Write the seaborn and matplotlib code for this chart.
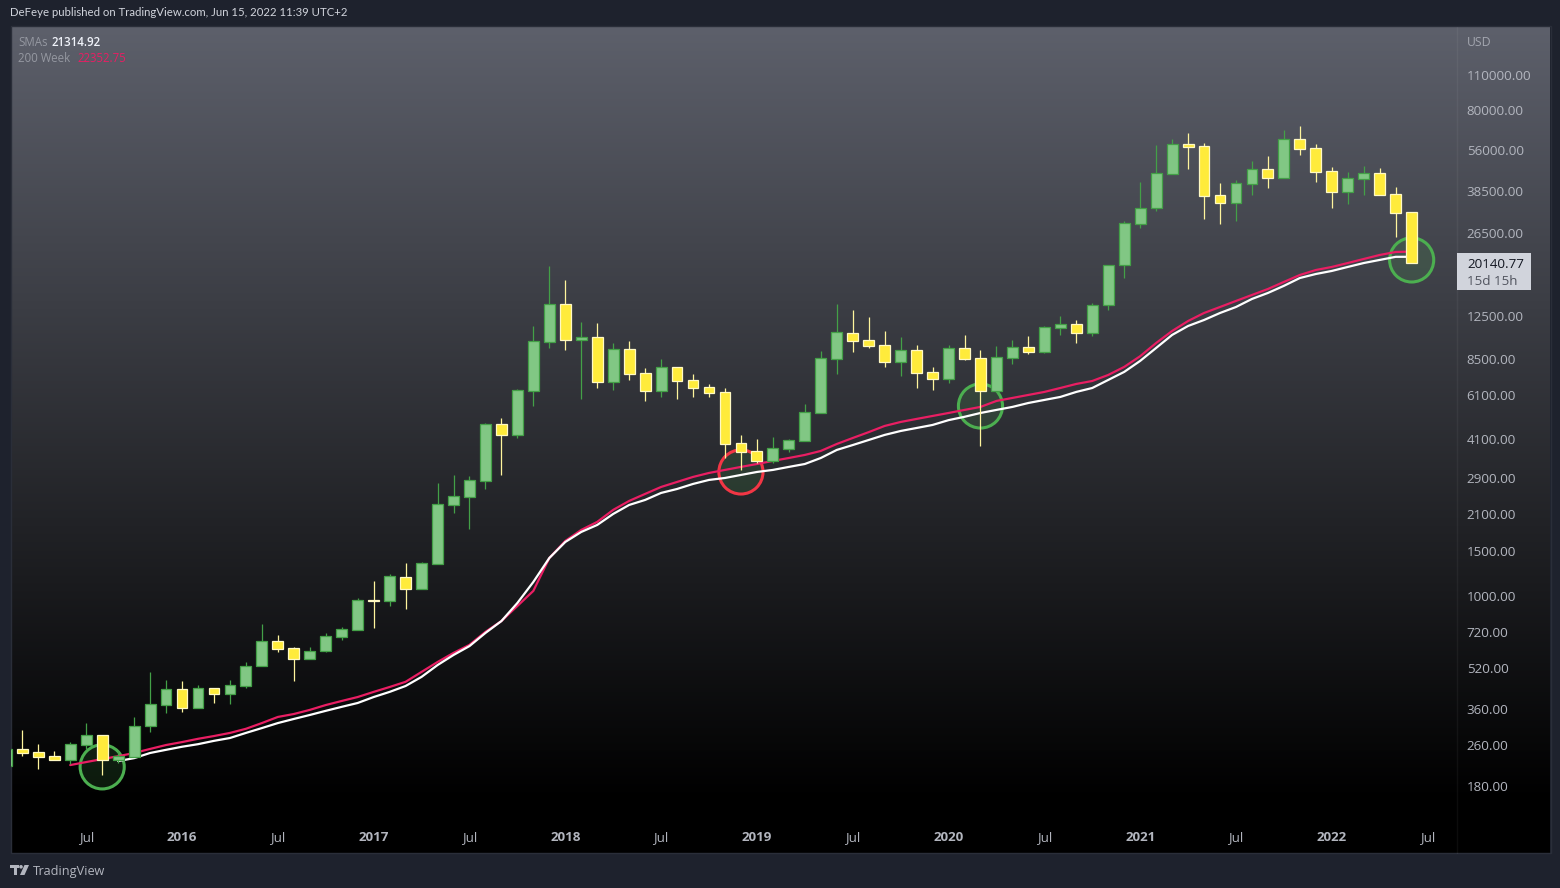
import numpy as np
import pandas as pd
import matplotlib
matplotlib.use("Agg")
import matplotlib.pyplot as plt
from matplotlib.patches import Rectangle, Polygon, Circle
from matplotlib.ticker import NullLocator
import seaborn as sns

# monthly candles, Feb 2015 to Jun 2022 (month 0 = Jan 2015)
opens = [215, 251, 244, 236, 227, 260, 285, 227, 233, 309, 373,
         431, 363, 435, 412, 443, 531, 665, 625, 566, 608, 690, 735,
         963, 955, 1185, 1063, 1332, 2270, 2440, 2820, 4715, 4271, 6350, 9890,
         13935, 10057, 10333, 6890, 9278, 7466, 6350, 7884, 7015, 6583, 6293, 3970,
         3696, 3378, 3763, 4043, 5206, 8478, 10720, 10057, 9615, 8248, 9195, 7534,
         7076, 9363, 8551, 6350, 8551, 9450, 9030, 11213, 11624, 10720, 13800, 19790,
         28670, 33110, 45010, 58980, 57950, 37200, 34660, 41120, 47070, 43430, 61710, 56900,
         46210, 38280, 43050, 45430, 37550, 31930]
highs = [251, 298, 262, 247, 267, 317, 285, 247, 335, 503, 468,
         464, 447, 435, 468, 550, 776, 703, 630, 630, 715, 755, 981,
         1143, 1218, 1344, 1357, 2768, 2976, 2949, 4760, 4977, 6465, 11416, 19632,
         17294, 11840, 11728, 9792, 9976, 7816, 8478, 7884, 7400, 6766, 6523, 4271,
         4117, 4192, 4117, 5651, 9113, 13935, 13198, 12387, 10910, 10333, 9615, 7884,
         9615, 10530, 9195, 9528, 10057, 10430, 11416, 12500, 12050, 14056, 19790, 29440,
         41890, 58490, 61710, 65150, 59540, 41490, 42650, 50650, 52960, 66970, 69420, 58980,
         47960, 45830, 48400, 47520, 40010, 31930]
lows = [215, 236, 209, 227, 219, 250, 198, 221, 233, 293, 347,
        350, 363, 380, 377, 435, 531, 602, 464, 566, 602, 671, 735,
        748, 912, 888, 1063, 1332, 2111, 1829, 2622, 2976, 4154, 5546, 9363,
        9195, 5909, 6523, 6406, 7015, 5803, 6017, 5909, 6017, 6017, 3468, 3114,
        3315, 3315, 3663, 4043, 5206, 7400, 9030, 9363, 7884, 7272, 6523, 6406,
        6824, 8404, 3865, 6350, 8101, 8873, 8948, 10530, 9792, 10430, 13198, 17600,
        27640, 32250, 45010, 47070, 29975, 28670, 29440, 37200, 39660, 43430, 53440, 41890,
        33110, 34350, 37200, 37200, 25480, 20140]
closes = [251, 242, 233, 227, 262, 285, 227, 236, 309, 377, 431,
          363, 435, 412, 447, 531, 665, 619, 566, 608, 696, 742, 963,
          955, 1196, 1063, 1344, 2292, 2461, 2845, 4715, 4271, 6406, 9976, 13935,
          10057, 10333, 6890, 9278, 7400, 6350, 7884, 6949, 6523, 6237, 3935, 3663,
          3378, 3797, 4080, 5253, 8551, 10817, 9976, 9528, 8248, 9195, 7466, 7076,
          9363, 8478, 6350, 8634, 9450, 9030, 11314, 11624, 10720, 13800, 19790, 28930,
          33110, 45430, 58980, 57450, 36890, 34660, 41490, 47070, 43430, 61710, 56400, 45830,
          38280, 43430, 45430, 37200, 31650, 20140]

# 200 week SMA, from Jun 2015
sma_pink = [217, 223, 229, 235, 242, 251, 260, 267, 275, 282, 290, 301, 317, 335, 344, 357,
            373, 387, 401, 420, 439, 460, 503, 550, 597, 642, 722, 796, 912, 1045, 1406, 1640,
            1812, 1948, 2171, 2354, 2508, 2670, 2794, 2923, 3030, 3114, 3200, 3285, 3378, 3468,
            3565, 3696, 3935, 4154, 4380, 4631, 4800, 4934, 5068, 5206, 5352, 5499, 5803, 5963,
            6127, 6296, 6523, 6766, 6949, 7338, 7890, 8692, 9792, 10910, 11940, 12837, 13550,
            14310, 15105, 15940, 16990, 18090, 18920, 19450, 20150, 20900, 21670, 22260, 22350]
# second SMA, from Sep 2015
sma_white = [225, 231, 242, 249, 256, 262, 270, 277, 290, 303, 317, 329, 341, 354, 367, 380,
             401, 420, 443, 481, 535, 586, 635, 715, 796, 937, 1133, 1406, 1625, 1779, 1895,
             2093, 2270, 2375, 2530, 2622, 2744, 2845, 2896, 2976, 3057, 3114, 3200, 3285, 3468,
             3729, 3898, 4080, 4271, 4425, 4547, 4673, 4880, 5030, 5206, 5352, 5499, 5698, 5856,
             6017, 6296, 6523, 7015, 7542, 8330, 9363, 10530, 11416, 12050, 12837, 13550, 14570,
             15380, 16400, 17600, 18250, 18760, 19450, 20150, 20720, 21310, 21315]

# highlighted touches of the moving average
touch_months = [7, 47, 62, 89]
touch_prices = [213.5, 3057, 5546, 20720]
touch_colors = ["#4caf50", "#f23645", "#4caf50", "#4caf50"]

price_ticks = [110000, 80000, 56000, 38500, 26500, 12500, 8500, 6100, 4100, 2900,
               2100, 1500, 1000, 720, 520, 360, 260, 180]
time_ticks = [6, 12, 18, 24, 30, 36, 42, 48, 54, 60, 66, 72, 78, 84, 90]
time_labels = ["Jul", "2016", "Jul", "2017", "Jul", "2018", "Jul", "2019", "Jul",
               "2020", "Jul", "2021", "Jul", "2022", "Jul"]

W, H = 1560, 888
sns.set_theme(style="dark", rc={"font.family": "Open Sans"})
fig = plt.figure(figsize=(W / 100, H / 100), dpi=100, facecolor="#1e222d")

# full figure layer in pixel coords for the panel gradient and header texts
bg = fig.add_axes([0, 0, 1, 1])
rows = np.arange(27, 853)
level = np.interp(rows, [27, 800], [1, 0])[:, None, None]
grad = level * np.array([93, 96, 107]) / 255
bg.imshow(grad, extent=(11, 1550, 853, 27), aspect="auto", interpolation="bilinear")
bg.add_patch(Rectangle((10.5, 26.5), 1540, 826, fill=False, edgecolor="#2a2e39", lw=1))
bg.plot([1457, 1457], [27, 853], color="#ffffff", alpha=0.05, lw=1)
bg.set_xlim(0, W)
bg.set_ylim(H, 0)
bg.axis("off")

bg.text(10, 13, "DeFeye published on TradingView.com, Jun 15, 2022 11:39 UTC+2",
        color="#d1d4dc", fontsize=8.2, va="center", family="Lato")
bg.text(18, 42, "SMAs", color="#9598a1", fontsize=8.3, va="center")
bg.text(51, 42, "21314.92", color="#f0f3fa", fontsize=8.3, va="center", fontweight="semibold")
bg.text(18, 59, "200 Week", color="#9598a1", fontsize=8.3, va="center")
bg.text(77, 59, "22352.75", color="#e91e63", fontsize=8.3, va="center")
bg.text(1467, 42, "USD", color="#a3a6af", fontsize=8.8, va="center")

# price tag on the axis
bg.add_patch(Rectangle((1457, 253), 74, 37, facecolor="#d1d4dc", edgecolor="none"))
bg.text(1467, 264, "20140.77", color="#131722", fontsize=9.6, va="center")
bg.text(1467, 281, "15d 15h", color="#50535e", fontsize=9.6, va="center")

# footer logo
bg.add_patch(Rectangle((10, 865), 8.5, 3.4, facecolor="#b2b5be", edgecolor="none"))
bg.add_patch(Rectangle((13.5, 865), 3.4, 10, facecolor="#b2b5be", edgecolor="none"))
bg.add_patch(Circle((21, 866.8), 1.8, facecolor="#b2b5be", edgecolor="none"))
bg.add_patch(Polygon([(24.5, 865), (29, 865), (24.5, 875), (20, 875)], facecolor="#b2b5be", edgecolor="none"))
bg.text(33, 871, "TradingView", color="#b2b5be", fontsize=9.2, va="center")

# main pane, x range 11..1457 px, y range 27..822 px
ax = fig.add_axes([11 / W, 1 - 822 / H, (1457 - 11) / W, (822 - 27) / H])
ax.patch.set_alpha(0)
ax.set_yscale("log")

months = np.arange(1, len(closes) + 1)
frame = pd.DataFrame({"month": months, "open": opens, "high": highs, "low": lows, "close": closes})
frame["up"] = frame["close"] >= frame["open"]

# circles sit under everything else, all with the same faint green fill
ax.scatter(touch_months, touch_prices, s=1010, facecolors="#4caf5026",
           edgecolors=touch_colors, linewidths=2.2, zorder=2)

line_df = pd.DataFrame({"month": np.arange(5, 5 + len(sma_pink)), "sma": sma_pink})
sns.lineplot(data=line_df, x="month", y="sma", color="#e91e63", linewidth=1.6, ax=ax, zorder=3)
line_df2 = pd.DataFrame({"month": np.arange(8, 8 + len(sma_white)), "sma": sma_white})
sns.lineplot(data=line_df2, x="month", y="sma", color="#ffffff", linewidth=1.6, ax=ax, zorder=4)

for up, sub in frame.groupby("up"):
    wick = "#43a047" if up else "#fff59d"
    fill = "#81c784" if up else "#ffeb3b"
    edge = "#43a047" if up else "#fff9c4"
    ax.vlines(sub["month"], sub["low"], sub["high"], color=wick, linewidth=0.9, zorder=5)
    bottoms = sub[["open", "close"]].min(axis=1)
    tops = sub[["open", "close"]].max(axis=1)
    ax.bar(sub["month"], tops - bottoms, bottom=bottoms, width=0.68, color=fill,
           edgecolor=edge, linewidth=0.9, zorder=6)

ax.set_xlim(1.29, 91.84)
ax.set_ylim(129.8, 169600)
ax.set_xlabel("")
ax.set_ylabel("")
ax.grid(False)
for spine in ax.spines.values():
    spine.set_visible(False)

ax.yaxis.tick_right()
ax.set_yticks(price_ticks)
ax.set_yticklabels([f"{p:.2f}" for p in price_ticks])
ax.yaxis.set_minor_locator(NullLocator())
ax.tick_params(axis="y", length=0, pad=7, labelsize=9.6, labelcolor="#b2b5be")
ax.set_xticks(time_ticks)
ax.set_xticklabels(time_labels)
ax.tick_params(axis="x", length=0, pad=6.5, labelsize=9.6, labelcolor="#b2b5be")
for lab in ax.get_xticklabels():
    if lab.get_text() != "Jul":
        lab.set_fontweight("bold")

fig.savefig("out.png", dpi=100, facecolor=fig.get_facecolor())
